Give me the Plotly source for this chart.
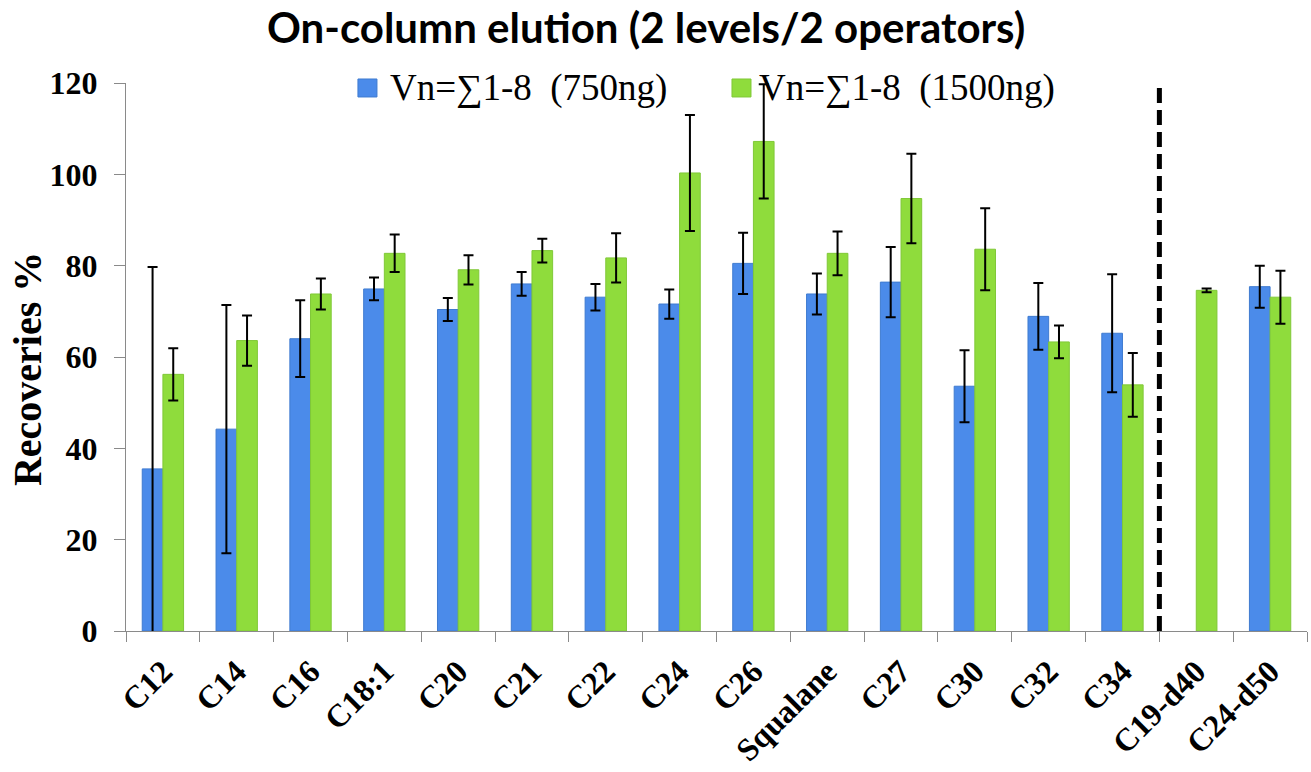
import plotly.graph_objects as go

categories = ["C12", "C14", "C16", "C18:1", "C20", "C21", "C22", "C24", "C26",
              "Squalane", "C27", "C30", "C32", "C34", "C19-d40", "C24-d50"]

blue_vals = [35.5, 44.2, 64.0, 74.9, 70.4, 76.0, 73.1, 71.6, 80.5,
             73.8, 76.4, 53.6, 68.9, 65.2, None, 75.4]
blue_err = [44.2, 27.2, 8.4, 2.5, 2.5, 2.6, 2.9, 3.2, 6.7,
            4.5, 7.7, 7.9, 7.3, 12.9, 0, 4.6]

green_vals = [56.2, 63.6, 73.8, 82.7, 79.1, 83.3, 81.7, 100.3, 107.2,
              82.7, 94.7, 83.6, 63.3, 53.9, 74.6, 73.1]
green_err = [5.7, 5.5, 3.4, 4.1, 3.2, 2.6, 5.4, 12.7, 12.5,
             4.8, 9.8, 9.0, 3.6, 7.0, 0.4, 5.8]

y_ticks = [0, 20, 40, 60, 80, 100, 120]
series_names = ["Vn=\u22111-8  (750ng)", "Vn=\u22111-8  (1500ng)"]
colors = ["#4b8bea", "#8fdc3c"]
edge_colors = ["#3f7bd0", "#80c838"]

serif = "Liberation Serif"

fig = go.Figure()
fig.add_trace(go.Bar(
    x=categories, y=blue_vals, name=series_names[0], showlegend=False,
    marker=dict(color=colors[0], line=dict(color=edge_colors[0], width=1)),
    error_y=dict(type="data", array=blue_err, color="black", thickness=2, width=5),
))
fig.add_trace(go.Bar(
    x=categories, y=green_vals, name=series_names[1], showlegend=False,
    marker=dict(color=colors[1], line=dict(color=edge_colors[1], width=1)),
    error_y=dict(type="data", array=green_err, color="black", thickness=2, width=5),
))

# dashed separator between native and deuterated compounds
fig.add_shape(type="line", xref="x", yref="y", x0=13.5, x1=13.5, y0=0, y1=119.5,
              line=dict(color="black", width=5, dash="15px,7px"))

# custom legend (larger swatches like the original)
legend_items = [(0.1964, 0.2219), (0.5131, 0.5343)]
annotations = []
for (sx, tx), name, col, ec in zip(legend_items, series_names, colors, edge_colors):
    fig.add_shape(type="rect", xref="paper", yref="paper",
                  x0=sx, x1=sx + 0.0161, y0=0.9745, y1=1.0073,
                  fillcolor=col, line=dict(color=ec, width=1), layer="above")
    annotations.append(dict(text=name, xref="paper", yref="paper", x=tx, y=0.9909,
                            xanchor="left", yanchor="middle", showarrow=False,
                            font=dict(family=serif, size=37, color="black")))

annotations.append(dict(text="<b>On-column elution (2 levels/2 operators)</b>",
                        xref="paper", yref="paper", x=0.44, y=1.0, yshift=83,
                        xanchor="center", yanchor="top", showarrow=False,
                        font=dict(family="Lato", size=42, color="black")))
annotations.append(dict(text="<b>Recoveries %</b>", xref="paper", yref="paper",
                        x=-0.0838, y=0.478, textangle=-90,
                        xanchor="center", yanchor="middle", showarrow=False,
                        font=dict(family=serif, size=40, color="black")))

fig.update_layout(
    width=1311, height=772,
    paper_bgcolor="white", plot_bgcolor="white",
    margin=dict(l=126, r=4, t=83, b=141),
    barmode="group", bargap=0.44, bargroupgap=0,
    showlegend=False,
    annotations=annotations,
    xaxis=dict(type="category", tickangle=-45, tickson="boundaries",
               ticks="outside", ticklen=10, tickcolor="#8a8a8a",
               showline=True, linecolor="#8a8a8a", linewidth=1,
               tickfont=dict(family=serif, size=32, color="black", weight="bold"),
               ticklabelstandoff=8,
               showgrid=False, automargin=False),
    yaxis=dict(range=[0, 120], tickvals=y_ticks, ticks="outside", ticklen=11,
               tickcolor="#8a8a8a", showline=True, linecolor="#8a8a8a", linewidth=1,
               tickfont=dict(family=serif, size=32, color="black", weight="bold"),
               ticklabelstandoff=10,
               showgrid=False, zeroline=False, automargin=False),
)

# remove the browser's default 8px body margin so the figure fills the window
fig.write_html("out.html", config={"displayModeBar": False},
               post_script="document.body.style.margin='0';document.body.style.overflow='hidden';")
